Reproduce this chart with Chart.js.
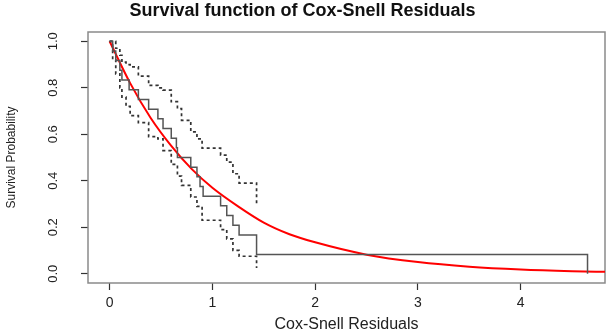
<!DOCTYPE html>
<html>
<head>
<meta charset="utf-8">
<script src="https://cdn.jsdelivr.net/npm/chart.js@4/dist/chart.umd.min.js"></script>
<style>
  html, body { margin: 0; padding: 0; background: #fff; }
</style>
</head>
<body>
<canvas id="survChart" width="609" height="334"></canvas>
<script>
// Kaplan-Meier estimate of the Cox-Snell residuals
const kmTime  = [0, 0.03, 0.06, 0.10, 0.12, 0.19, 0.28, 0.38, 0.47, 0.52, 0.60, 0.65, 0.66, 0.79, 0.85, 0.88, 0.91, 1.08, 1.14, 1.20, 1.26, 1.43, 4.65];
const kmSurv  = [1.0, 0.958, 0.917, 0.875, 0.833, 0.792, 0.750, 0.708, 0.667, 0.625, 0.583, 0.542, 0.500, 0.458, 0.417, 0.375, 0.333, 0.292, 0.250, 0.208, 0.167, 0.083, 0.0];

// confidence band, ends at 1.43
const bandTime  = [0, 0.03, 0.06, 0.10, 0.12, 0.16, 0.20, 0.28, 0.38, 0.47, 0.52, 0.60, 0.66, 0.70, 0.79, 0.85, 0.90, 1.08, 1.14, 1.20, 1.26, 1.43];
const bandUpper = [1.0, 1.0, 0.97, 0.94, 0.91, 0.90, 0.89, 0.85, 0.81, 0.80, 0.79, 0.74, 0.71, 0.66, 0.61, 0.58, 0.54, 0.51, 0.48, 0.43, 0.39, 0.30];
const bandLower = [1.0, 0.92, 0.86, 0.80, 0.76, 0.72, 0.68, 0.65, 0.59, 0.58, 0.53, 0.47, 0.42, 0.38, 0.33, 0.29, 0.23, 0.19, 0.15, 0.10, 0.075, 0.025];

// reference curve (red)
const refX = [0, 0.2, 0.4, 0.6, 0.8, 1.0, 1.25, 1.5, 1.75, 2.0, 2.5, 3.0, 3.5, 4.0, 4.5, 4.85];
const refY = [1.0, 0.82, 0.67, 0.55, 0.45, 0.37, 0.29, 0.22, 0.17, 0.135, 0.082, 0.05, 0.03, 0.018, 0.011, 0.008];

const xTicks = [0, 1, 2, 3, 4];
const yTicks = [0, 0.2, 0.4, 0.6, 0.8, 1.0];

const toPoints = (xs, ys) => xs.map((x, i) => ({ x: x, y: ys[i] }));

// grey frame around the plot region, like base R's box()
const boxPlugin = {
    id: 'plotBox',
    beforeDatasetsDraw(chart) {
        const a = chart.chartArea;
        const ctx = chart.ctx;
        ctx.save();
        ctx.strokeStyle = '#8a8a8a';
        ctx.lineWidth = 1.5;
        ctx.strokeRect(a.left, a.top, a.right - a.left, a.bottom - a.top);
        ctx.restore();
    }
};

const ctx = document.getElementById('survChart').getContext('2d');
new Chart(ctx, {
    type: 'line',
    data: {
        datasets: [
            {
                label: 'KM',
                data: toPoints(kmTime, kmSurv),
                stepped: true,
                borderColor: '#555555',
                borderWidth: 1.5,
                pointRadius: 0,
                fill: false
            },
            {
                label: 'upper',
                data: toPoints(bandTime, bandUpper),
                stepped: true,
                borderColor: '#333333',
                borderWidth: 1.7,
                borderDash: [3, 3],
                pointRadius: 0,
                fill: false
            },
            {
                label: 'lower',
                data: toPoints(bandTime, bandLower),
                stepped: true,
                borderColor: '#333333',
                borderWidth: 1.7,
                borderDash: [3, 3],
                pointRadius: 0,
                fill: false
            },
            {
                label: 'exp',
                data: toPoints(refX, refY),
                borderColor: '#ff0000',
                borderWidth: 2,
                pointRadius: 0,
                cubicInterpolationMode: 'monotone',
                fill: false
            }
        ]
    },
    options: {
        responsive: false,
        animation: false,
        layout: { padding: { left: 0, right: 4, top: 0, bottom: 0 } },
        plugins: {
            legend: { display: false },
            tooltip: { enabled: false },
            title: {
                display: true,
                text: 'Survival function of Cox-Snell Residuals',
                color: '#111',
                font: { family: 'Liberation Sans, Arial, sans-serif', size: 18, weight: 'bold', lineHeight: 1.2 },
                padding: { top: 0, bottom: 10.4 }
            }
        },
        scales: {
            x: {
                type: 'linear',
                min: -0.21,
                max: 4.82,
                afterBuildTicks(scale) { scale.ticks = xTicks.map(v => ({ value: v })); },
                afterFit(scale) { scale.height = 51; },
                grid: { drawOnChartArea: false, tickLength: 7, tickColor: '#333', tickWidth: 1.2 },
                border: { display: false },
                ticks: {
                    color: '#222',
                    padding: 5,
                    font: { family: 'Liberation Sans, Arial, sans-serif', size: 14 },
                    callback: v => String(v)
                },
                title: {
                    display: true,
                    text: 'Cox-Snell Residuals',
                    color: '#222',
                    font: { family: 'Liberation Sans, Arial, sans-serif', size: 16 },
                    padding: { top: 0, bottom: 0 }
                }
            },
            y: {
                type: 'linear',
                min: -0.04,
                max: 1.04,
                afterBuildTicks(scale) { scale.ticks = yTicks.map(v => ({ value: v })); },
                afterFit(scale) { scale.width = 88; },
                grid: { drawOnChartArea: false, tickLength: 7, tickColor: '#333', tickWidth: 1.2 },
                border: { display: false },
                ticks: {
                    color: '#222',
                    padding: 19,
                    minRotation: 90,
                    maxRotation: 90,
                    crossAlign: 'center',
                    font: { family: 'Liberation Sans Narrow, Liberation Sans, Arial, sans-serif', size: 13 },
                    callback: v => v.toFixed(1)
                },
                title: {
                    display: true,
                    text: 'Survival Probability',
                    color: '#222',
                    font: { family: 'Liberation Sans Narrow, Liberation Sans, Arial, sans-serif', size: 12 },
                    padding: { top: 4, bottom: 0 }
                }
            }
        }
    },
    plugins: [boxPlugin]
});
</script>
</body>
</html>
